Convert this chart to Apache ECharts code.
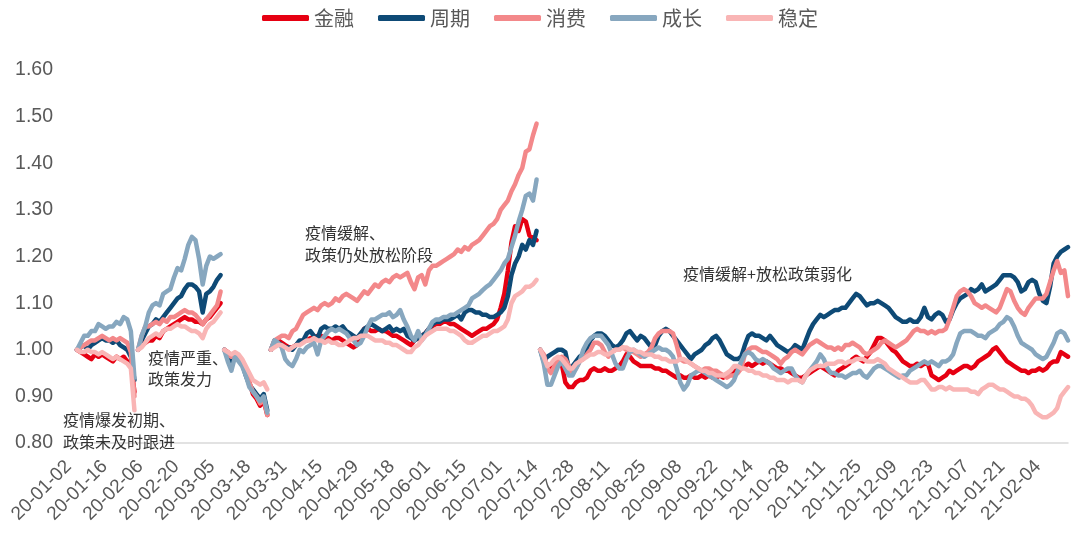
<!DOCTYPE html>
<html>
<head>
<meta charset="utf-8">
<script src="https://cdn.jsdelivr.net/npm/echarts@6/dist/echarts.min.js"></script>
<style>html,body{margin:0;padding:0;background:#fff}#c{width:1080px;height:547px}</style>
</head>
<body>
<div id="c"></div>
<script>
// x-axis tick labels (every 10th trading-day category)
const tickLabels = ['20-01-02','20-01-16','20-02-06','20-02-20','20-03-05','20-03-18','20-03-31','20-04-15','20-04-29','20-05-18','20-06-01','20-06-15','20-07-01','20-07-14','20-07-28','20-08-11','20-08-25','20-09-08','20-09-22','20-10-14','20-10-28','20-11-11','20-11-25','20-12-09','20-12-23','21-01-07','21-01-21','21-02-04'];

const sectorNames = ['金融','周期','消费','成长','稳定'];

// Each sector: 5 stage segments, each rebased to 1.00 at its start
const finance = [
  [1.00,0.995,0.99,0.985,0.98,0.99,0.985,0.99,0.985,0.98,0.975,0.985,0.98,0.985,0.975,0.97,0.91],
  [1.00,1.01,1.015,1.02,1.02,1.03,1.025,1.04,1.045,1.05,1.055,1.06,1.065,1.07,1.065,1.065,1.06,1.06,1.055,1.065,1.07,1.08,1.09,1.10],
  [1.00,0.995,0.985,0.99,0.985,0.97,0.955,0.93,0.905,0.895,0.88,0.89,0.86],
  [1.00,1.015,1.02,1.015,1.01,1.005,1.005,1.01,1.015,1.02,
   1.02,1.025,1.025,1.03,1.03,1.02,1.025,1.02,1.025,1.025,
   1.02,1.015,1.01,1.005,1.01,1.03,1.045,1.045,1.04,1.04,
   1.045,1.04,1.04,1.035,1.03,1.03,1.025,1.02,1.015,1.01,
   1.02,1.025,1.03,1.035,1.045,1.05,1.055,1.055,1.06,1.06,
   1.055,1.055,1.05,1.045,1.04,1.035,1.03,1.035,1.04,1.045,
   1.045,1.05,1.055,1.065,1.09,1.12,1.17,1.23,1.265,1.255,
   1.28,1.275,1.245,1.24,1.235],
  [1.00,0.985,0.965,0.96,0.975,0.98,0.97,0.93,0.92,0.92,
   0.93,0.935,0.935,0.94,0.955,0.96,0.955,0.955,0.96,0.955,
   0.955,0.96,0.965,0.975,0.99,0.985,0.975,0.97,0.965,0.965,
   0.965,0.965,0.96,0.96,0.955,0.955,0.95,0.945,0.94,0.945,
   0.94,0.94,0.945,0.94,0.94,0.945,0.94,0.945,0.94,0.94,
   0.945,0.94,0.945,0.95,0.955,0.955,0.96,0.965,0.97,0.965,
   0.97,0.975,0.97,0.975,0.97,0.965,0.96,0.96,0.955,0.955,
   0.95,0.945,0.94,0.94,0.945,0.95,0.955,0.96,0.965,0.96,
   0.955,0.95,0.945,0.955,0.96,0.965,0.97,0.98,0.985,0.98,
   0.975,0.985,0.995,1.01,1.025,1.025,1.02,1.01,1.00,0.995,
   0.985,0.975,0.97,0.965,0.965,0.97,0.965,0.97,0.97,0.945,
   0.94,0.935,0.94,0.945,0.955,0.95,0.955,0.96,0.965,0.965,
   0.96,0.965,0.975,0.98,0.985,0.99,1.00,1.005,0.995,0.985,
   0.975,0.97,0.965,0.96,0.955,0.955,0.95,0.955,0.955,0.96,
   0.955,0.96,0.97,0.975,0.975,0.995,0.99,0.985]
];
const cyclical = [
  [1.00,1.005,1.01,1.00,1.01,1.015,1.02,1.025,1.02,1.02,1.015,1.02,1.01,1.005,1.00,0.985,0.935],
  [1.00,1.02,1.035,1.05,1.055,1.065,1.06,1.07,1.08,1.09,1.10,1.11,1.115,1.13,1.14,1.14,1.135,1.125,1.08,1.12,1.125,1.135,1.15,1.16],
  [1.00,0.99,0.975,0.99,0.985,0.97,0.945,0.925,0.915,0.905,0.895,0.905,0.87],
  [1.00,1.02,1.015,1.01,1.005,1.005,1.00,1.01,1.02,1.02,
   1.035,1.04,1.03,1.025,1.045,1.05,1.045,1.045,1.05,1.045,
   1.05,1.04,1.035,1.03,1.025,1.035,1.045,1.05,1.055,1.05,
   1.045,1.04,1.045,1.05,1.04,1.045,1.04,1.045,1.03,1.025,
   1.02,1.025,1.03,1.035,1.045,1.055,1.06,1.06,1.065,1.065,
   1.065,1.07,1.075,1.065,1.08,1.085,1.085,1.08,1.08,1.075,
   1.075,1.07,1.07,1.075,1.08,1.09,1.115,1.16,1.185,1.20,
   1.225,1.215,1.235,1.225,1.255],
  [1.00,0.975,0.985,0.99,0.995,1.00,1.00,0.995,0.96,0.965,
   0.975,0.985,0.99,1.00,1.02,1.03,1.035,1.035,1.03,1.02,
   1.01,1.005,1.01,1.02,1.035,1.04,1.03,1.02,1.03,1.025,
   1.015,1.005,1.01,1.03,1.04,1.045,1.04,1.03,1.02,1.01,
   1.00,0.99,0.98,0.99,0.995,1.00,1.01,1.015,1.025,1.03,
   1.02,1.005,0.99,0.985,0.98,0.98,0.985,1.01,1.03,1.035,
   1.03,1.03,1.025,1.02,1.03,1.02,1.01,1.005,1.00,0.995,
   1.00,1.01,1.005,1.00,1.02,1.04,1.055,1.065,1.075,1.07,
   1.075,1.08,1.085,1.085,1.09,1.09,1.10,1.11,1.12,1.115,
   1.105,1.095,1.10,1.10,1.105,1.10,1.095,1.09,1.08,1.07,
   1.065,1.06,1.06,1.065,1.06,1.06,1.07,1.09,1.07,1.065,
   1.075,1.08,1.075,1.06,1.065,1.085,1.10,1.11,1.115,1.12,
   1.13,1.125,1.13,1.14,1.125,1.13,1.135,1.14,1.15,1.16,
   1.16,1.16,1.155,1.145,1.125,1.13,1.145,1.15,1.145,1.12,
   1.105,1.10,1.135,1.185,1.20,1.21,1.215,1.22]
];
const consumer = [
  [1.00,1.005,1.01,1.015,1.02,1.02,1.025,1.03,1.025,1.02,1.025,1.02,1.025,1.02,1.015,0.995,0.90],
  [1.00,1.03,1.05,1.05,1.055,1.06,1.055,1.065,1.06,1.07,1.07,1.075,1.08,1.085,1.08,1.08,1.075,1.065,1.055,1.065,1.075,1.085,1.095,1.125],
  [1.00,0.99,0.985,0.99,0.985,0.97,0.95,0.93,0.91,0.90,0.885,0.895,0.86],
  [1.00,1.02,1.025,1.03,1.03,1.025,1.04,1.045,1.06,1.075,
   1.08,1.085,1.09,1.085,1.095,1.10,1.095,1.10,1.11,1.105,
   1.115,1.12,1.115,1.11,1.105,1.115,1.125,1.12,1.13,1.14,
   1.135,1.145,1.15,1.145,1.155,1.16,1.155,1.16,1.165,1.145,
   1.13,1.155,1.16,1.14,1.17,1.18,1.18,1.185,1.19,1.195,
   1.20,1.205,1.215,1.21,1.22,1.215,1.225,1.23,1.235,1.245,
   1.255,1.265,1.27,1.28,1.30,1.31,1.32,1.34,1.355,1.375,
   1.39,1.425,1.43,1.46,1.485],
  [1.00,0.99,0.96,0.95,0.965,0.975,0.985,0.98,0.965,0.95,
   0.96,0.975,0.98,0.99,1.00,1.015,1.015,1.01,0.995,0.985,
   0.995,1.00,1.00,1.005,1.00,1.00,0.995,0.99,0.985,0.99,
   0.995,1.005,1.025,1.035,1.04,1.04,1.04,1.035,1.01,0.98,
   0.975,0.975,0.97,0.965,0.96,0.955,0.96,0.96,0.955,0.955,
   0.95,0.945,0.94,0.945,0.945,0.95,0.96,0.99,1.00,1.005,
   1.005,1.00,0.995,0.995,0.99,0.985,0.98,0.97,0.98,0.985,
   0.995,1.00,0.995,0.99,1.00,1.01,1.015,1.02,1.015,1.01,
   1.005,1.005,1.00,1.005,1.00,1.01,1.01,1.015,1.01,1.005,
   0.995,0.99,0.995,1.00,1.005,1.015,1.02,1.015,1.01,1.005,
   1.01,1.015,1.02,1.03,1.04,1.045,1.04,1.04,1.035,1.04,
   1.035,1.04,1.04,1.045,1.065,1.09,1.115,1.125,1.13,1.125,
   1.115,1.10,1.095,1.09,1.095,1.09,1.085,1.08,1.09,1.11,
   1.13,1.125,1.105,1.09,1.08,1.075,1.09,1.10,1.11,1.11,
   1.11,1.12,1.145,1.17,1.19,1.165,1.17,1.115]
];
const growth = [
  [1.00,1.015,1.03,1.03,1.04,1.04,1.055,1.05,1.045,1.05,1.05,1.06,1.055,1.07,1.065,1.04,0.94],
  [1.00,1.03,1.05,1.08,1.095,1.10,1.095,1.12,1.125,1.13,1.155,1.175,1.17,1.195,1.225,1.242,1.235,1.195,1.14,1.18,1.20,1.195,1.20,1.205],
  [1.00,0.975,0.955,0.985,0.975,0.965,0.945,0.92,0.91,0.90,0.89,0.90,0.865],
  [1.00,1.02,1.015,1.005,0.98,0.97,0.965,0.98,1.00,0.995,
   1.005,1.01,1.015,0.99,1.02,1.03,1.04,1.045,1.04,1.045,
   1.04,1.035,1.025,1.02,1.01,1.015,1.03,1.05,1.065,1.065,
   1.07,1.075,1.075,1.08,1.07,1.075,1.085,1.065,1.05,1.03,
   1.02,1.04,1.02,1.03,1.045,1.06,1.065,1.065,1.07,1.07,
   1.075,1.075,1.08,1.085,1.09,1.095,1.11,1.115,1.12,1.128,
   1.135,1.14,1.15,1.16,1.17,1.185,1.195,1.22,1.245,1.275,
   1.30,1.33,1.335,1.32,1.365],
  [1.00,0.97,0.925,0.925,0.945,0.965,0.975,0.96,0.945,0.945,
   0.96,0.975,1.00,1.015,1.025,1.03,1.03,1.03,1.02,1.01,
   0.99,0.97,0.96,0.96,0.98,0.995,1.00,0.995,0.99,0.985,
   0.99,0.995,1.00,1.005,1.00,1.00,0.995,0.985,0.96,0.93,
   0.915,0.925,0.945,0.95,0.955,0.955,0.95,0.945,0.94,0.935,
   0.93,0.925,0.92,0.925,0.935,0.955,0.975,0.99,0.995,0.99,
   0.98,0.975,0.98,0.975,0.97,0.96,0.955,0.95,0.955,0.96,
   0.96,0.945,0.935,0.93,0.945,0.955,0.965,0.975,0.99,0.98,
   0.96,0.95,0.95,0.945,0.945,0.94,0.945,0.95,0.95,0.955,
   0.945,0.94,0.95,0.96,0.965,0.965,0.96,0.955,0.95,0.945,
   0.94,0.945,0.945,0.955,0.96,0.965,0.97,0.975,0.97,0.975,
   0.97,0.965,0.975,0.975,0.98,0.99,1.015,1.035,1.04,1.04,
   1.04,1.035,1.03,1.03,1.025,1.035,1.04,1.045,1.055,1.06,
   1.07,1.065,1.05,1.03,1.015,1.01,1.005,1.00,0.99,0.985,
   0.98,0.985,1.00,1.015,1.035,1.04,1.035,1.02]
];
const stable = [
  [1.00,0.995,0.995,1.00,0.995,0.995,0.99,0.995,0.99,0.985,0.98,0.985,0.98,0.975,0.97,0.96,0.87],
  [1.00,1.005,1.015,1.025,1.03,1.035,1.03,1.04,1.045,1.045,1.05,1.055,1.05,1.05,1.045,1.04,1.04,1.035,1.025,1.045,1.055,1.06,1.07,1.08],
  [1.00,0.995,0.99,0.995,0.99,0.98,0.965,0.95,0.935,0.93,0.925,0.93,0.915],
  [1.00,1.005,1.01,1.01,1.005,1.00,1.005,1.01,1.01,1.015,
   1.02,1.02,1.025,1.02,1.02,1.015,1.02,1.015,1.015,1.01,
   1.01,1.015,1.02,1.025,1.025,1.03,1.03,1.03,1.025,1.02,
   1.02,1.02,1.015,1.015,1.01,1.01,1.005,1.00,0.995,0.995,
   1.005,1.01,1.02,1.03,1.035,1.04,1.045,1.045,1.045,1.045,
   1.04,1.04,1.035,1.03,1.02,1.015,1.015,1.02,1.025,1.03,
   1.03,1.035,1.04,1.04,1.045,1.05,1.065,1.10,1.115,1.12,
   1.125,1.135,1.135,1.14,1.15],
  [1.00,0.985,0.965,0.97,0.98,0.985,0.98,0.97,0.96,0.96,
   0.97,0.975,0.98,0.985,0.99,0.99,0.995,0.995,0.99,0.99,
   0.995,1.00,1.00,1.005,1.005,1.00,1.00,0.995,0.995,0.99,
   0.99,0.99,0.985,0.985,0.98,0.98,0.975,0.975,0.975,0.98,
   0.98,0.975,0.97,0.965,0.96,0.955,0.955,0.95,0.95,0.945,
   0.945,0.945,0.95,0.955,0.965,0.965,0.96,0.96,0.955,0.955,
   0.95,0.95,0.945,0.945,0.94,0.94,0.935,0.935,0.935,0.93,
   0.935,0.935,0.935,0.93,0.945,0.955,0.96,0.965,0.965,0.965,
   0.97,0.97,0.97,0.975,0.975,0.97,0.975,0.975,0.98,0.98,
   0.98,0.975,0.975,0.975,0.98,0.975,0.97,0.96,0.955,0.95,
   0.945,0.94,0.935,0.93,0.93,0.93,0.935,0.935,0.925,0.915,
   0.915,0.92,0.92,0.915,0.92,0.915,0.915,0.915,0.915,0.915,
   0.91,0.91,0.905,0.915,0.92,0.925,0.925,0.92,0.915,0.915,
   0.91,0.905,0.90,0.90,0.895,0.895,0.89,0.88,0.865,0.86,
   0.855,0.855,0.86,0.865,0.875,0.90,0.91,0.92]
];

const colors = ['#E60012','#0E4A76','#F3888A','#87A7BF','#F9B5B5'];
const allSectors = [finance, cyclical, consumer, growth, stable];

// segment boundaries from segment lengths
const segLens = finance.map(s => s.length);
const segStarts = [];
let acc = 0;
segLens.forEach(l => { segStarts.push(acc); acc += l; });
const total = acc;

const categories = Array.from({length: total}, (_, i) => i % 10 === 0 && tickLabels[i / 10] ? tickLabels[i / 10] : ('d' + i));

const series = [];
segStarts.forEach((start, k) => {
  allSectors.forEach((sec, j) => {
    const arr = new Array(total).fill(null);
    sec[k].forEach((v, t) => { arr[start + t] = v; });
    series.push({
      name: sectorNames[j],
      type: 'line',
      data: arr,
      symbol: 'none',
      showSymbol: false,
      smooth: false,
      silent: true,
      lineStyle: { width: 4.5, color: colors[j], cap: 'round', join: 'round' },
      itemStyle: { color: colors[j] },
      z: 2
    });
  });
});

const annFont = '"Noto Sans CJK SC", sans-serif';
const chart = echarts.init(document.getElementById('c'), null, { renderer: 'canvas' });
chart.setOption({
  animation: false,
  backgroundColor: '#ffffff',
  legend: {
    data: sectorNames,
    top: 3,
    left: 'center',
    icon: 'roundRect',
    itemWidth: 47,
    itemHeight: 6,
    itemGap: 24,
    textStyle: { fontSize: 20, color: '#595959', fontFamily: annFont }
  },
  grid: { left: 77, right: 12, top: 70, bottom: 104, containLabel: false },
  xAxis: {
    type: 'category',
    data: categories,
    boundaryGap: false,
    axisLine: { show: true, lineStyle: { color: '#D9D9D9', width: 1.5 } },
    axisTick: { show: false },
    splitLine: { show: false },
    axisLabel: {
      interval: 9,
      rotate: 45,
      margin: 12,
      padding: [0, 12, 0, 0],
      fontSize: 19,
      color: '#595959',
      fontFamily: '"Liberation Sans", Arial, sans-serif'
    }
  },
  yAxis: {
    type: 'value',
    min: 0.8,
    max: 1.6,
    interval: 0.1,
    axisLine: { show: false },
    axisTick: { show: false },
    splitLine: { show: false },
    axisLabel: {
      margin: 24,
      fontSize: 19.5,
      color: '#595959',
      fontFamily: '"Liberation Sans", Arial, sans-serif',
      formatter: v => v.toFixed(2)
    }
  },
  graphic: [
    { type: 'text', left: 63, top: 409, z: 10, style: { text: '疫情爆发初期、\n政策未及时跟进', fontSize: 16, lineHeight: 22, fill: '#333333', fontFamily: annFont } },
    { type: 'text', left: 148, top: 347, z: 10, style: { text: '疫情严重、\n政策发力', fontSize: 16, lineHeight: 21, fill: '#333333', fontFamily: annFont } },
    { type: 'text', left: 305, top: 222, z: 10, style: { text: '疫情缓解、\n政策仍处放松阶段', fontSize: 16, lineHeight: 22, fill: '#333333', fontFamily: annFont } },
    { type: 'text', left: 683, top: 263, z: 10, style: { text: '疫情缓解+放松政策弱化', fontSize: 16, lineHeight: 22, fill: '#333333', fontFamily: annFont } }
  ],
  series: series
});
</script>
</body>
</html>
